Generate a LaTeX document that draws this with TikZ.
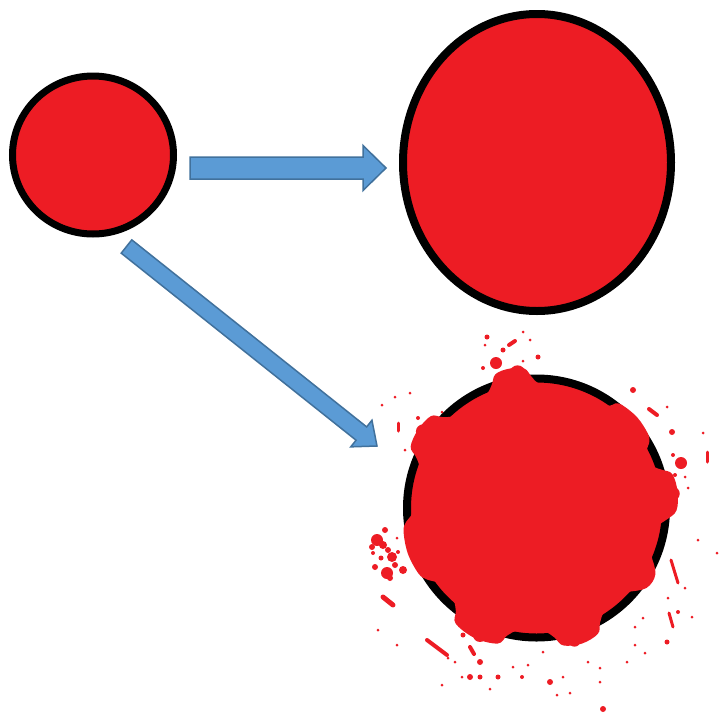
\documentclass[tikz,border=0pt]{standalone}
\usepackage{xcolor}
\usepackage{tikz}
\usetikzlibrary{calc,shapes.geometric}

\definecolor{paintred}{HTML}{ED1C24}
\definecolor{arrowfill}{HTML}{5B9BD5}
\definecolor{arrowline}{HTML}{41719C}

% block arrow: start, tip, shaft half width, head half width, head length
\newcommand{\blockarrow}[5]{%
  \coordinate (hb) at ($(#2)!#5!(#1)$);
  \draw[blockarrow] ($(#1)!#3!90:(#2)$) -- ($(hb)!#3!90:(#2)$) -- ($(hb)!#4!90:(#2)$)
    -- (#2) -- ($(hb)!#4!-90:(#2)$) -- ($(hb)!#3!-90:(#2)$) -- ($(#1)!#3!-90:(#2)$) -- cycle;}

\begin{document}
\begin{tikzpicture}[x=1pt,y=-1pt,
    ball/.style={draw=black,fill=paintred,ellipse,inner sep=0pt,outer sep=0pt},
    splat/.style={fill=paintred},
    streak/.style={draw=paintred,line cap=round,line width=#1},
    blockarrow/.style={draw=arrowline,fill=arrowfill,line width=1.5pt,line join=miter}
  ]
    \useasboundingbox (0,0) rectangle (723,718);

    \node[ball,line width=7pt,minimum width=161pt,minimum height=158pt] (small) at (93,155) {};
    \node[ball,line width=8pt,minimum width=268pt,minimum height=297pt] (big) at (537,162.5) {};
    \node[ball,line width=8pt,minimum size=259pt] (burst) at (536.5,508) {};

    % paint running over the rim
    \begin{scope}[shift={(burst.center)},yscale=-1]
      \fill[splat] plot[smooth cycle,tension=0.6] coordinates {
        (-8:124) (-5:131) (-1:140) (6.5:142) (14:140) (17:131) (20:124)
        (27:124) (30.5:131) (34:134) (42:135.5) (50:134) (53:131) (56:124) (72:121)
        (88:124) (92:131) (95:140) (101:142) (107:140) (110:131) (114:124) (123:121)
        (132:124) (136:131) (139:140) (146.5:142) (154:140) (157:131) (161:124) (171:121)
        (182:124) (186:131) (190:135) (199.5:136.5) (209:135) (213:131) (217:124) (222:122)
        (228:124) (232:131) (235:141) (244.5:144) (254:141) (257:131) (261:124) (267:121)
        (274:124) (278:131) (281:140) (288.5:143) (296:140) (299:131) (303:124) (310:121)
        (317:124) (321:131) (324:136) (327.5:137.5) (331:136) (334:131) (338:124) (345:121)};
      \foreach \a/\d/\r in {98/136/8, 146/137/7, 246/139/7, 6/137/7, 286/138/6}
        \fill[splat] (\a:\d) circle (\r);
    \end{scope}

    % drops
    \foreach \x/\y/\r in {496/363/6, 487/337/2.5, 503/350/2.5, 483/368/2, 538/357/2.5,
        523/361/1.5, 530/340/1.5, 523/332/1.5, 485/345/1.5, 633/390/3, 667/407/1.5,
        672/432/3, 681/463/6, 703/433/1.5, 673/455/2, 675/475/2, 685/477/1.5,
        688/488/1.5, 698/540/1.5, 717/553/1.5, 685/588/1.5, 678/612/2, 667/642/2.5,
        668/598/1.5, 692/617/1.5, 643/618/1.5, 635/627/1.5, 635/645/1.5, 645/653/1.5,
        627/662/1.5, 600/682/1.5, 603/709/3, 588/662/1.5, 600/668/1.5, 570/693/1.5,
        563/677/1.5, 550/682/3, 557/695/1.5, 543/652/1.5, 528/665/1.5, 513/667/1.5,
        522/677/2, 498/677/2.5, 490/689/1.5, 480/677/2.5, 470/677/3, 480/662/3,
        463/635/2.5, 462/677/1.5, 455/662/1.5, 442/685/1.5, 448/658/1.5, 378/630/1.5,
        397/645/1.5, 387/573/6, 403/570/4, 392/557/5, 377/540/6, 385/530/3, 388/550/3,
        375/567/3, 373/553/2, 397/538/1.5, 382/405/1.5, 395/397/1.5, 410/393/1.5,
        405/450/1.5, 418/418/2, 442/412/1.5, 383/545/4, 395/565/3, 381/558/2.5,
        398/552/2, 372/547/3, 390/578/3}
      \fill[splat] (\x,\y) circle (\r);

    \draw[streak=4pt] (427,640) -- (447,655);
    \draw[streak=5pt] (383,597) -- (393,605);
    \draw[streak=3pt] (671,560) -- (678,583);
    \draw[streak=3pt] (669,613) -- (673,627);
    \draw[streak=4pt] (649,409) -- (657,415);
    \draw[streak=4pt] (509,345) -- (515,341);
    \draw[streak=3pt] (707,452) -- (707,462);
    \draw[streak=3pt] (398,423) -- (398,431);
    \draw[streak=4pt] (470,647) -- (474,654);

    \coordinate (h1) at (190,168);
    \coordinate (h2) at (386,168);
    \coordinate (d1) at (126.5,246.5);
    \coordinate (d2) at (377,446);
    \blockarrow{h1}{h2}{11pt}{22.5pt}{23pt}
    \blockarrow{d1}{d2}{8.5pt}{17pt}{20pt}
  \end{tikzpicture}
\end{document}
